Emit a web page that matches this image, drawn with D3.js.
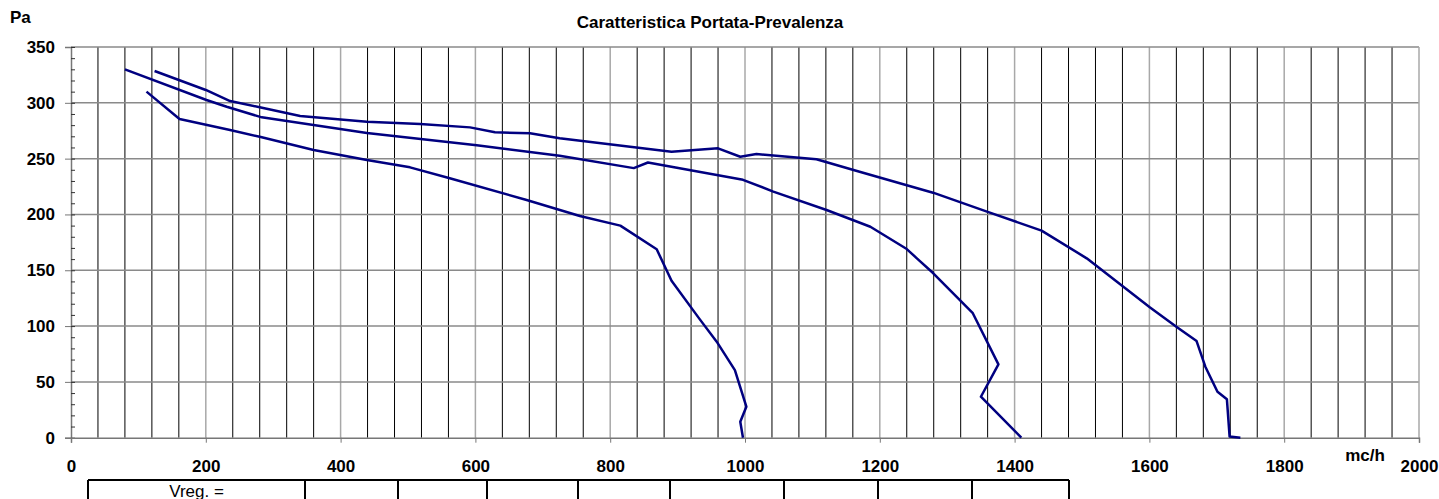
<!DOCTYPE html>
<html>
<head>
<meta charset="utf-8">
<script src="https://cdn.jsdelivr.net/npm/d3@7"></script>
<style>
  body { margin: 0; background: #fff; }
  text { font-family: Arial, "Liberation Sans", sans-serif; }
</style>
</head>
<body>
<script>
// portata (mc/h) and prevalenza (Pa)
const portataA = [124, 200, 236, 280, 340, 439, 518, 592, 629, 681, 725, 891, 960, 993, 1017, 1106, 1170, 1279, 1359, 1440, 1507, 1601, 1640, 1670, 1683, 1701, 1715, 1719, 1735];
const prevalA  = [328.5, 311.5, 301.6, 296, 288.2, 283, 281, 278, 273.6, 272.7, 268.2, 256.2, 259.2, 251.7, 254.1, 249.4, 238.3, 219.5, 202.5, 185.5, 160.7, 116.6, 99.4, 86.6, 63.6, 41.2, 34.4, 1, 0];

const portataB = [80, 201, 231, 283, 439, 602, 725, 835, 856, 997, 1042, 1121, 1186, 1240, 1255, 1279, 1338, 1376, 1350, 1410];
const prevalB  = [330, 302.5, 296.5, 287, 273, 262, 252.5, 241.5, 246.5, 231, 220.5, 204, 189, 169, 160.7, 147.5, 111.5, 65.7, 36.7, 0];

const portataC = [112, 161, 236, 280, 360, 439, 503, 562, 676, 755, 815, 869, 891, 933, 958, 985, 1002, 993, 997];
const prevalC  = [310, 285.5, 275.6, 269.6, 257.7, 248.8, 242.2, 232.4, 213, 198.6, 190, 168.8, 140.6, 106, 86, 60.6, 27.8, 14.3, 0];

const xTicks = [0, 200, 400, 600, 800, 1000, 1200, 1400, 1600, 1800, 2000];
const yTicks = [0, 50, 100, 150, 200, 250, 300, 350];

const W = 1439, H = 499;
const margin = {left: 71, right: 20, top: 47, bottom: 61.3};
const width = W - margin.left - margin.right;
const height = H - margin.top - margin.bottom;

const svg = d3.select("body").append("svg")
    .attr("width", W)
    .attr("height", H);

const x = d3.scaleLinear().domain([0, 2000]).range([0, width]);
const y = d3.scaleLinear().domain([0, 350]).range([height, 0]);

const g = svg.append("g")
    .attr("transform", `translate(${margin.left},${margin.top})`);

// vertical grid every 40, lighter at the labelled values
g.append("g")
    .selectAll("line")
    .data(d3.range(40, 2000, 40))
    .enter().append("line")
    .attr("x1", d => x(d)).attr("x2", d => x(d))
    .attr("y1", 0).attr("y2", height)
    .attr("stroke", d => d % 200 === 0 ? "#a8a8a8" : "#000")
    .attr("stroke-width", d => d % 200 === 0 ? 1.5 : 1);

// horizontal grid
g.append("g")
    .selectAll("line")
    .data(yTicks.slice(1))
    .enter().append("line")
    .attr("x1", 0).attr("x2", width)
    .attr("y1", d => y(d)).attr("y2", d => y(d))
    .attr("stroke", "#8a8a8a")
    .attr("stroke-width", 1.5);

// frame right
g.append("line")
    .attr("x1", width).attr("x2", width)
    .attr("y1", 0).attr("y2", height)
    .attr("stroke", "#a8a8a8").attr("stroke-width", 1.5);

// y axis
const yAxis = g.append("g")
    .call(d3.axisLeft(y).tickValues(yTicks).tickFormat(d3.format("d")).tickSize(6).tickPadding(10));
yAxis.select(".domain").attr("stroke", "#777").attr("stroke-width", 1.5);
yAxis.selectAll(".tick line").attr("stroke", "#777");
yAxis.selectAll("text")
    .attr("font-size", 17).attr("font-weight", "bold").attr("fill", "#000");

g.append("g")
    .call(d3.axisRight(y).tickValues(d3.range(0, 351, 10)).tickSize(4).tickFormat(""))
    .call(a => a.select(".domain").remove())
    .selectAll(".tick line").attr("stroke", "#333");

// x axis
const xAxis = g.append("g")
    .attr("transform", `translate(0,${height})`)
    .call(d3.axisBottom(x).tickValues(xTicks).tickFormat(d3.format("d")).tickSize(5).tickPadding(17));
xAxis.select(".domain").attr("stroke", "#777").attr("stroke-width", 1.5);
xAxis.selectAll(".tick line").attr("stroke", "#777");
xAxis.selectAll("text")
    .attr("font-size", 17).attr("font-weight", "bold").attr("fill", "#000");

// curves
const line = d3.line().x(d => x(d[0])).y(d => y(d[1]));
const curves = [
    d3.zip(portataA, prevalA),
    d3.zip(portataB, prevalB),
    d3.zip(portataC, prevalC)
];
g.selectAll(".curve")
    .data(curves)
    .enter().append("path")
    .attr("class", "curve")
    .attr("d", line)
    .attr("fill", "none")
    .attr("stroke", "#000080")
    .attr("stroke-width", 2.5)
    .attr("stroke-linejoin", "round");

// labels
svg.append("text")
    .attr("x", 10).attr("y", 23)
    .attr("font-size", 17).attr("font-weight", "bold")
    .text("Pa");

svg.append("text")
    .attr("x", 710).attr("y", 28)
    .attr("text-anchor", "middle")
    .attr("font-size", 17).attr("font-weight", "bold")
    .text("Caratteristica Portata-Prevalenza");

svg.append("text")
    .attr("x", margin.left + x(1920)).attr("y", 461)
    .attr("text-anchor", "middle")
    .attr("font-size", 17).attr("font-weight", "bold")
    .text("mc/h");

// table below the chart
const cols = [88, 305, 398, 487, 578, 670, 784, 878, 972, 1069];
const table = svg.append("g");
table.append("line")
    .attr("x1", cols[0]).attr("x2", cols[cols.length - 1])
    .attr("y1", 480).attr("y2", 480)
    .attr("stroke", "#000").attr("stroke-width", 2);
table.selectAll(".col")
    .data(cols)
    .enter().append("line")
    .attr("x1", d => d).attr("x2", d => d)
    .attr("y1", 480).attr("y2", H)
    .attr("stroke", "#000").attr("stroke-width", 2);
table.append("text")
    .attr("x", (cols[0] + cols[1]) / 2).attr("y", 497)
    .attr("text-anchor", "middle")
    .attr("font-size", 17)
    .text("Vreg. =");
</script>
</body>
</html>
